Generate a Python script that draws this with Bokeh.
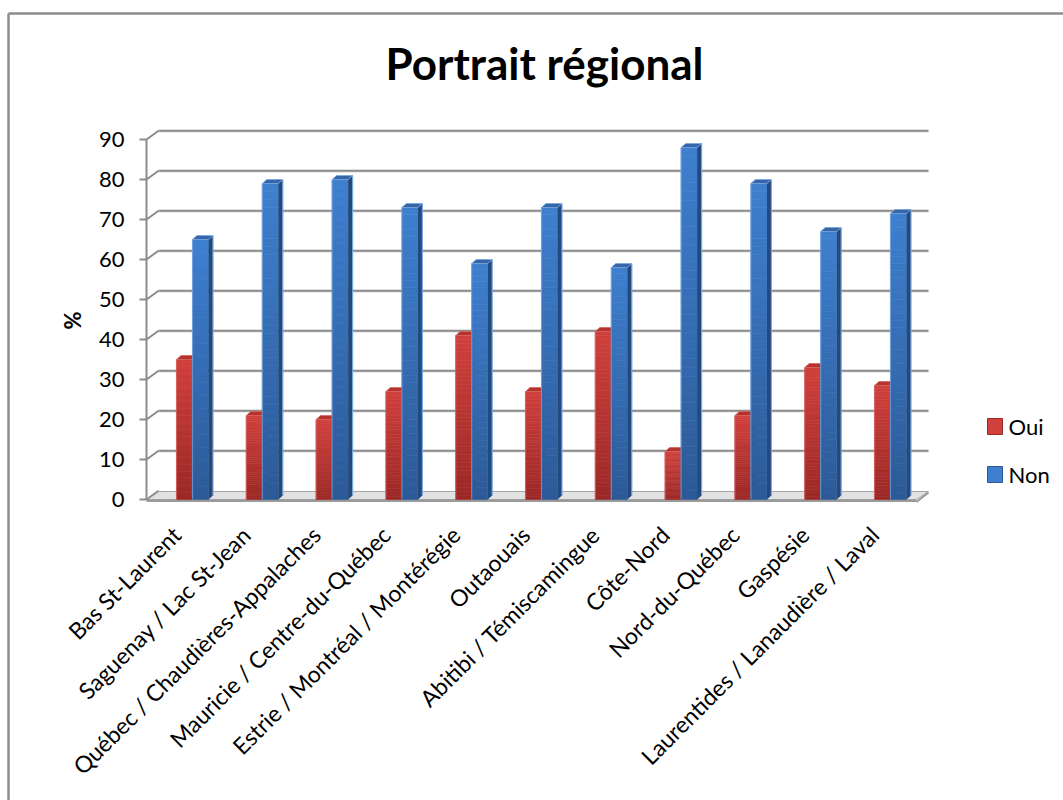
import math
from bokeh.plotting import figure
from bokeh.models import Range1d, LinearAxis, FixedTicker, ColumnDataSource
from bokeh.core.properties import value
from bokeh.embed import file_html
from bokeh.resources import INLINE

# ---- data -------------------------------------------------------------
regions = [
    "Bas St-Laurent",
    "Saguenay / Lac St-Jean",
    "Québec / Chaudières-Appalaches",
    "Mauricie / Centre-du-Québec",
    "Estrie / Montréal / Montérégie",
    "Outaouais",
    "Abitibi / Témiscamingue",
    "Côte-Nord",
    "Nord-du-Québec",
    "Gaspésie",
    "Laurentides / Lanaudière / Laval",
]
oui = [35, 21, 20, 27, 41, 27, 42, 12, 21, 33, 28.5]
non = [65, 79, 80, 73, 59, 73, 58, 88, 79, 67, 71.5]
series_names = ["Oui", "Non"]
y_ticks = [0, 10, 20, 30, 40, 50, 60, 70, 80, 90]
title_text = "Portrait régional"
y_label = "%"

# ---- canvas geometry --------------------------------------------------
W, H = 1063, 800
X0_PX = 176.0      # canvas x of category 0 (label anchor)
CAT_PX = 69.8      # canvas px per category
Y0_PX = 499.0      # canvas y of value 0
UNIT_PX = 4.0      # canvas px per percent

def dx(px):
    return px / CAT_PX

def dy(px):
    return px / UNIT_PX

def sx(px):
    return (px - X0_PX) / CAT_PX

def sy(py):
    return (Y0_PX - py) / UNIT_PX

FONT = "Lato"
GRID = "#8c8c8c"

p = figure(width=W, height=H, output_backend="svg", toolbar_location=None,
           x_range=Range1d(sx(0), sx(W)), y_range=Range1d(sy(H), sy(0)),
           x_axis_type=None, y_axis_type=None, min_border=0)
p.min_border_left = p.min_border_right = p.min_border_top = p.min_border_bottom = 0
p.outline_line_color = None
p.background_fill_color = "white"
p.border_fill_color = "white"

# chart area border (top and left edges)
p.segment(x0=[sx(8), sx(8)], y0=[sy(13), sy(13)], x1=[sx(W + 5), sx(8)], y1=[sy(13), sy(H + 5)],
          line_color=GRID, line_width=2.5)

# ---- 3D wall and floor --------------------------------------------------
WALL_DX, WALL_DY = dx(12), dy(8)
AX_X = sx(146)
WALL_RIGHT = sx(928)
vmax = y_ticks[-1]

# floor slab
p.patch(x=[AX_X, WALL_RIGHT - WALL_DX, WALL_RIGHT, AX_X + WALL_DX],
        y=[0, 0, WALL_DY, WALL_DY], fill_color="#e2e2e2", line_color="#a6a6a6", line_width=1)
p.patch(x=[AX_X, WALL_RIGHT - WALL_DX, WALL_RIGHT - WALL_DX, AX_X],
        y=[0, 0, -dy(2.5), -dy(2.5)], fill_color="#9a9a9a", line_color=None)
p.segment(x0=[WALL_RIGHT - WALL_DX], y0=[-dy(2.5)], x1=[WALL_RIGHT], y1=[WALL_DY - dy(1)],
          line_color="#9a9a9a", line_width=2)

# back-wall gridlines with the slanted side-wall stubs
grid_vals = [v for v in y_ticks if v > 0]
p.segment(x0=[AX_X + WALL_DX] * len(grid_vals), y0=[v + WALL_DY for v in grid_vals],
          x1=[WALL_RIGHT] * len(grid_vals), y1=[v + WALL_DY for v in grid_vals],
          line_color="#d9d9d9", line_width=2)
p.segment(x0=[AX_X + WALL_DX] * len(grid_vals), y0=[v + WALL_DY + dy(0.8) for v in grid_vals],
          x1=[WALL_RIGHT] * len(grid_vals), y1=[v + WALL_DY + dy(0.8) for v in grid_vals],
          line_color=GRID, line_width=2)
p.segment(x0=[AX_X] * len(y_ticks), y0=y_ticks,
          x1=[AX_X + WALL_DX] * len(y_ticks), y1=[v + WALL_DY + dy(0.8) for v in y_ticks],
          line_color=GRID, line_width=2)

# ---- bars ---------------------------------------------------------------
BAR_SHIFT = dx(16)
BW = dx(16)
BDX, BDY = dx(4.5), dy(4)
N_SLICES = 40

def hexrgb(h):
    h = h.lstrip("#")
    return tuple(int(h[k:k + 2], 16) for k in (0, 2, 4))

def lerp(c0, c1, t):
    a, b = hexrgb(c0), hexrgb(c1)
    return "#%02x%02x%02x" % tuple(int(round(a[k] + (b[k] - a[k]) * t)) for k in range(3))

styles = {
    "Oui": dict(bottom="#9b2826", top="#d0403c", side="#7e1f1e", cap="#b5322f", edge="#d86460"),
    "Non": dict(bottom="#2c5a97", top="#3e7fcf", side="#234a7c", cap="#3566aa", edge="#79a6df"),
}

def draw_series(vals, name, left_off):
    st = styles[name]
    centers = [i + BAR_SHIFT for i in range(len(vals))]
    lefts = [c + left_off for c in centers]
    rights = [l + BW for l in lefts]
    # front face: vertical gradient built from stacked slices
    L, R, B, T, C = [], [], [], [], []
    for l, r, v in zip(lefts, rights, vals):
        for j in range(N_SLICES):
            L.append(l); R.append(r)
            B.append(v * j / N_SLICES); T.append(v * (j + 1) / N_SLICES)
            C.append(lerp(st["bottom"], st["top"], (j + 0.5) / N_SLICES))
    p.quad(left="l", right="r", bottom="b", top="t", fill_color="c", line_color="c", line_width=0.6,
           source=ColumnDataSource(dict(l=L, r=R, b=B, t=T, c=C)))
    # side face
    p.patches(xs=[[r, r + BDX, r + BDX, r] for r in rights],
              ys=[[0, BDY, v + BDY, v] for v in vals],
              fill_color=st["side"], line_color=None)
    p.segment(x0=[r + BDX for r in rights], y0=[BDY] * len(vals),
              x1=[r + BDX for r in rights], y1=[v + BDY for v in vals],
              line_color=st["edge"], line_width=1.2)
    # top cap
    p.patches(xs=[[l, r, r + BDX, l + BDX] for l, r in zip(lefts, rights)],
              ys=[[v, v, v + BDY, v + BDY] for v in vals],
              fill_color=st["cap"], line_color=st["edge"], line_width=0.8)
    # left highlight
    p.segment(x0=lefts, y0=[0] * len(vals), x1=lefts, y1=vals,
              line_color=st["edge"], line_width=1.2, line_alpha=0.7)

draw_series(oui, "Oui", -BW)
draw_series(non, "Non", 0.0)

# ---- axes -----------------------------------------------------------------
yaxis = LinearAxis(fixed_location=AX_X, ticker=FixedTicker(ticks=y_ticks), bounds=(0, vmax))
yaxis.axis_line_color = GRID
yaxis.axis_line_width = 2
yaxis.major_tick_line_color = GRID
yaxis.major_tick_line_width = 2
yaxis.major_tick_out = 7
yaxis.major_tick_in = 0
yaxis.minor_tick_line_color = None
yaxis.major_label_standoff = 15
yaxis.major_label_text_font = FONT
yaxis.major_label_text_font_size = "22px"
yaxis.major_label_text_color = "black"
p.add_layout(yaxis, "left")

xaxis = LinearAxis(fixed_location=sy(503), ticker=FixedTicker(ticks=list(range(len(regions)))),
                   major_label_overrides={i: r for i, r in enumerate(regions)})
xaxis.axis_line_color = None
xaxis.major_tick_line_color = None
xaxis.minor_tick_line_color = None
xaxis.major_tick_out = 0
xaxis.major_tick_in = 0
xaxis.major_label_orientation = math.pi / 4
xaxis.major_label_standoff = 27
xaxis.major_label_text_font = FONT
xaxis.major_label_text_font_size = "23px"
xaxis.major_label_text_color = "black"
p.add_layout(xaxis, "below")

# ---- texts ------------------------------------------------------------------
p.text(x=[sx(544)], y=[sy(62)], text=[title_text], text_font=value(FONT), text_font_style="bold",
       text_font_size="44px", text_align="center", text_baseline="middle", text_color="black")
p.text(x=[sx(72)], y=[sy(320)], text=[y_label], angle=math.pi / 2, text_font=value(FONT),
       text_font_style="bold", text_font_size="22px", text_align="center", text_baseline="middle",
       text_color="black")

# ---- legend -------------------------------------------------------------------
leg_tops = [418, 466]
for name, top in zip(series_names, leg_tops):
    st = styles[name]
    p.quad(left=[sx(987)], right=[sx(1002)], top=[sy(top)], bottom=[sy(top + 16)],
           fill_color=st["top"], line_color=st["bottom"], line_width=1)
    p.text(x=[sx(1008)], y=[sy(top + 8)], text=[name], text_font=value(FONT),
           text_font_size="22px", text_align="left", text_baseline="middle", text_color="black")

open("out.html", "w").write(file_html(p, INLINE))
